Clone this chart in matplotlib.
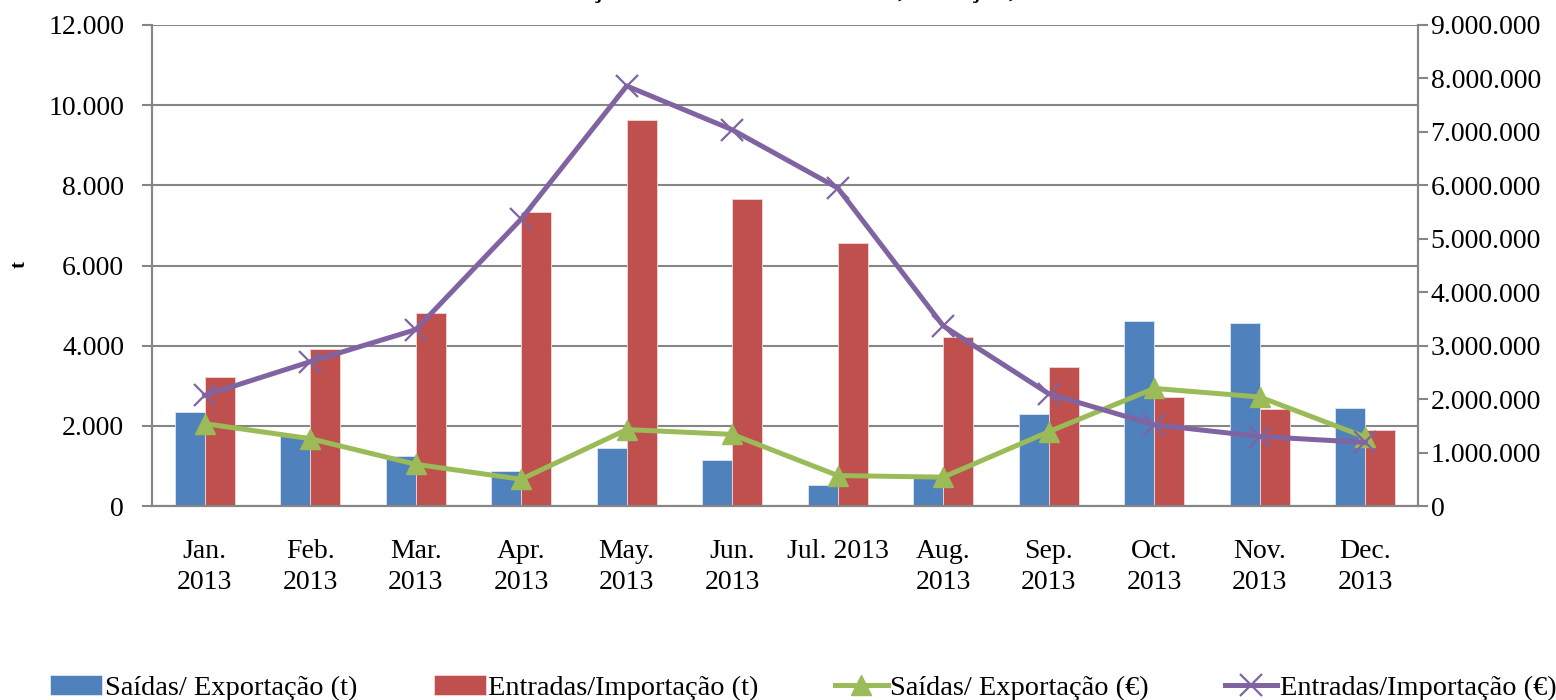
import numpy as np
import matplotlib
matplotlib.use("Agg")
import matplotlib.pyplot as plt
from matplotlib.ticker import FuncFormatter

plt.rcParams['font.family'] = ['Liberation Serif', 'DejaVu Serif']

# dados
meses = ['Jan.\n2013', 'Feb.\n2013', 'Mar.\n2013', 'Apr.\n2013', 'May.\n2013', 'Jun.\n2013',
         'Jul. 2013', 'Aug.\n2013', 'Sep.\n2013', 'Oct.\n2013', 'Nov.\n2013', 'Dec.\n2013']
saidas_t = [2335, 1767, 1245, 868, 1450, 1160, 535, 700, 2292, 4617, 4558, 2442]
entradas_t = [3208, 3925, 4817, 7330, 9620, 7650, 6550, 4217, 3467, 2725, 2408, 1892]
saidas_eur = [1540000, 1260000, 780000, 500000, 1430000, 1340000, 570000, 540000, 1390000, 2200000, 2040000, 1290000]
entradas_eur = [2070000, 2700000, 3300000, 5370000, 7860000, 7040000, 5950000, 3370000, 2100000, 1520000, 1300000, 1190000]

azul = '#4F81BD'
vermelho = '#C0504D'
verde = '#9BBB59'
roxo = '#8064A2'
cinza = '#868686'

def milhares(v, pos):
    return '{:,.0f}'.format(v).replace(',', '.')

fig = plt.figure(figsize=(15.56, 7.0), dpi=100)
ax = fig.add_axes([152/1556, 1-506/700, (1418-152)/1556, (506-25)/700])
ax2 = ax.twinx()

x = np.arange(len(meses))
w = 0.284
b1 = ax.bar(x - w/2, saidas_t, w, color=azul, edgecolor='#dfe7f2', linewidth=0.6,
            label='Saídas/ Exportação (t)', zorder=2)
b2 = ax.bar(x + w/2, entradas_t, w, color=vermelho, edgecolor='#f0d8d8', linewidth=0.6,
            label='Entradas/Importação (t)', zorder=2)

l1, = ax2.plot(x, saidas_eur, color=verde, lw=3.6, marker='^', ms=15, zorder=3,
               label='Saídas/ Exportação (€)')
l2, = ax2.plot(x, entradas_eur, color=roxo, lw=3.6, marker='x', ms=16, mew=1.6, zorder=4,
               label='Entradas/Importação (€)')

ax.set_xlim(-0.5, 11.5)
ax.set_ylim(0, 12000)
ax.set_yticks(np.arange(0, 12001, 2000))
ax2.set_ylim(0, 9000000)
ax2.set_yticks(np.arange(0, 9000001, 1000000))
ax.yaxis.set_major_formatter(FuncFormatter(milhares))
ax2.yaxis.set_major_formatter(FuncFormatter(milhares))

ax.yaxis.grid(True, color=cinza, lw=1.5, zorder=0)
ax.set_axisbelow(True)

for a in (ax, ax2):
    for s in a.spines.values():
        s.set_color(cinza)
        s.set_linewidth(1.5)
    a.spines['top'].set_visible(False)

ax.set_xticks(x)
ax.set_xticklabels(meses, fontsize=20, linespacing=1.3)
ax.tick_params(axis='x', length=0, pad=24)
ax.tick_params(axis='y', labelsize=20, length=7, width=1.5, color=cinza, pad=13)
ax2.tick_params(axis='y', labelsize=20, length=7, width=1.5, color=cinza, pad=2)

fig.text(20/1556, 1-265/700, 't', rotation=90, fontsize=15, fontweight='bold',
         ha='center', va='center')

# título (cortado no topo da imagem original)
fig.text(800/1556, 1.004, 'Evolução das Saídas e Entradas, Cotação, 2013',
         fontsize=20, fontweight='bold', ha='center', va='baseline')

fig.legend(handles=[b1, b2, l1, l2], loc='center left', bbox_to_anchor=(50/1556, 1-688/700),
           ncol=4, frameon=False, fontsize=20.4, handlelength=1.85, handletextpad=0.08,
           columnspacing=2.7, borderaxespad=0, borderpad=0)

fig.savefig('out.png', dpi=100)
